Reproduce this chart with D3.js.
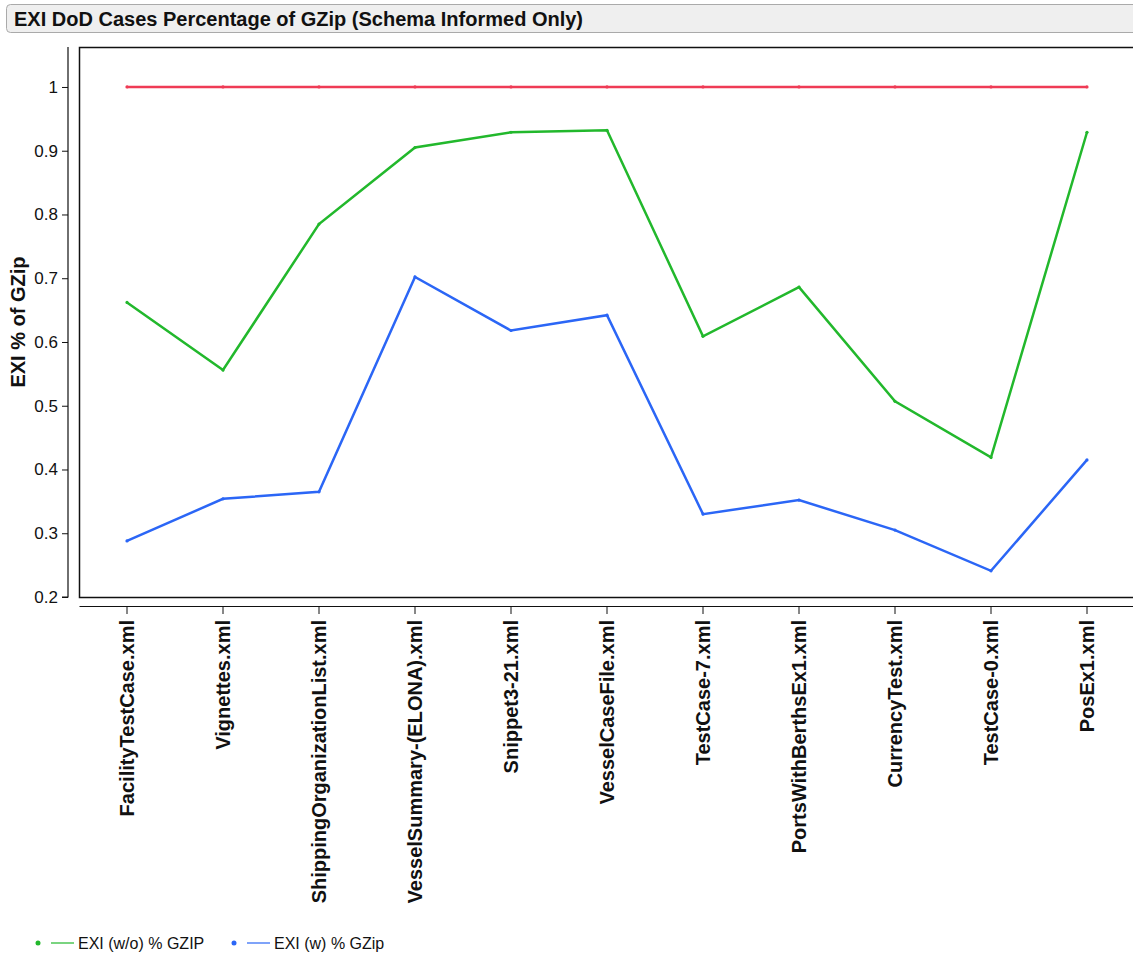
<!DOCTYPE html>
<html><head><meta charset="utf-8">
<script src="https://cdn.jsdelivr.net/npm/d3@7"></script>
<style>
html,body{margin:0;padding:0;background:#fff;overflow:hidden;}
svg{display:block;font-family:"Liberation Sans",Arial,sans-serif;}
</style></head>
<body>
<script>
const categories = ["FacilityTestCase.xml","Vignettes.xml","ShippingOrganizationList.xml","VesselSummary-(ELONA).xml","Snippet3-21.xml","VesselCaseFile.xml","TestCase-7.xml","PortsWithBerthsEx1.xml","CurrencyTest.xml","TestCase-0.xml","PosEx1.xml"];
const exiWithout = [0.662,0.556,0.785,0.905,0.929,0.932,0.609,0.686,0.507,0.419,0.929];
const exiWith = [0.288,0.354,0.365,0.702,0.618,0.642,0.330,0.352,0.305,0.241,0.415];
const gzipBase = [1,1,1,1,1,1,1,1,1,1,1];
const yTicks = [0.2,0.3,0.4,0.5,0.6,0.7,0.8,0.9,1];
const title = "EXI DoD Cases Percentage of GZip (Schema Informed Only)";
const yLabel = "EXI % of GZip";
const seriesNames = ["EXI (w/o) % GZIP","EXI (w) % GZip"];
const colors = {green:"#22b82c", blue:"#2b66f6", red:"#ef3b55"};

const W=1133,H=954;
const svg=d3.select("body").append("svg").attr("width",W).attr("height",H);

// title bar
svg.append("rect").attr("x",6.5).attr("y",4.5).attr("width",1140).attr("height",28).attr("rx",4)
  .attr("fill","#efefef").attr("stroke","#aaa");
svg.append("text").attr("x",14).attr("y",26).attr("font-size",20).attr("font-weight","bold").attr("fill","#111").text(title);

const plotL=79, plotR=1135, plotT=47, plotB=597;
const x=d3.scaleBand().domain(categories).range([plotL,plotR]).padding(0);
const y=d3.scaleLinear().domain([0.2,1+40/638]).range([plotB,plotT]);
const cx=c=>x(c)+x.bandwidth()/2;

// plot frame
svg.append("rect").attr("x",plotL+0.5).attr("y",plotT+0.5).attr("width",plotR-plotL+10).attr("height",plotB-plotT)
  .attr("fill","none").attr("stroke","#111").attr("stroke-width",1.5);

// y axis
const yAxis=svg.append("g").attr("transform","translate(68,0)")
  .call(d3.axisLeft(y).tickValues(yTicks).tickSize(6).tickPadding(4).tickFormat(d=>d===1?"1":d3.format(".1f")(d)));
yAxis.select(".domain").attr("d",`M-6,${plotB}H0V${plotT}`).attr("stroke","#111").attr("stroke-width",1.2);
yAxis.selectAll(".tick line").attr("stroke","#111");
yAxis.selectAll("text").attr("font-size",17).attr("fill","#111").attr("font-family","Liberation Sans, Arial, sans-serif");

svg.append("text").attr("transform",`translate(25,322) rotate(-90)`).attr("text-anchor","middle")
  .attr("font-size",20).attr("font-weight","bold").attr("fill","#111").text(yLabel);

// x axis
const xAxis=svg.append("g").attr("transform","translate(0,606)")
  .call(d3.axisBottom(x).tickSize(8).tickSizeOuter(0));
xAxis.select(".domain").attr("stroke","#111").attr("stroke-width",1.2);
xAxis.selectAll(".tick line").attr("stroke","#111");
xAxis.selectAll(".tick text").attr("font-size",20).attr("font-weight","bold").attr("fill","#111")
  .attr("font-family","Liberation Sans, Arial, sans-serif")
  .attr("transform","rotate(-90)").attr("text-anchor","end").attr("x",-14).attr("y",0).attr("dy","0.35em");

// lines
const line=d3.line().x((d,i)=>cx(categories[i])).y(d=>y(d));
[[gzipBase,colors.red],[exiWithout,colors.green],[exiWith,colors.blue]].forEach(([data,col])=>{
  svg.append("path").datum(data).attr("d",line).attr("fill","none").attr("stroke",col).attr("stroke-width",2.5);
  svg.selectAll(null).data(data).enter().append("circle")
    .attr("cx",(d,i)=>cx(categories[i])).attr("cy",d=>y(d)).attr("r",1.6).attr("fill",col);
});

// legend
const leg=[{name:seriesNames[0],col:colors.green,x:38},{name:seriesNames[1],col:colors.blue,x:234}];
leg.forEach(l=>{
  const g=svg.append("g").attr("transform",`translate(${l.x},943)`);
  g.append("circle").attr("cx",0).attr("cy",0).attr("r",2.5).attr("fill",l.col);
  g.append("line").attr("x1",13).attr("x2",36).attr("y1",0).attr("y2",0).attr("stroke",l.col).attr("stroke-width",1.2);
  g.append("text").attr("x",40).attr("y",6).attr("font-size",16).attr("fill","#111").text(l.name);
});
</script>
</body></html>
